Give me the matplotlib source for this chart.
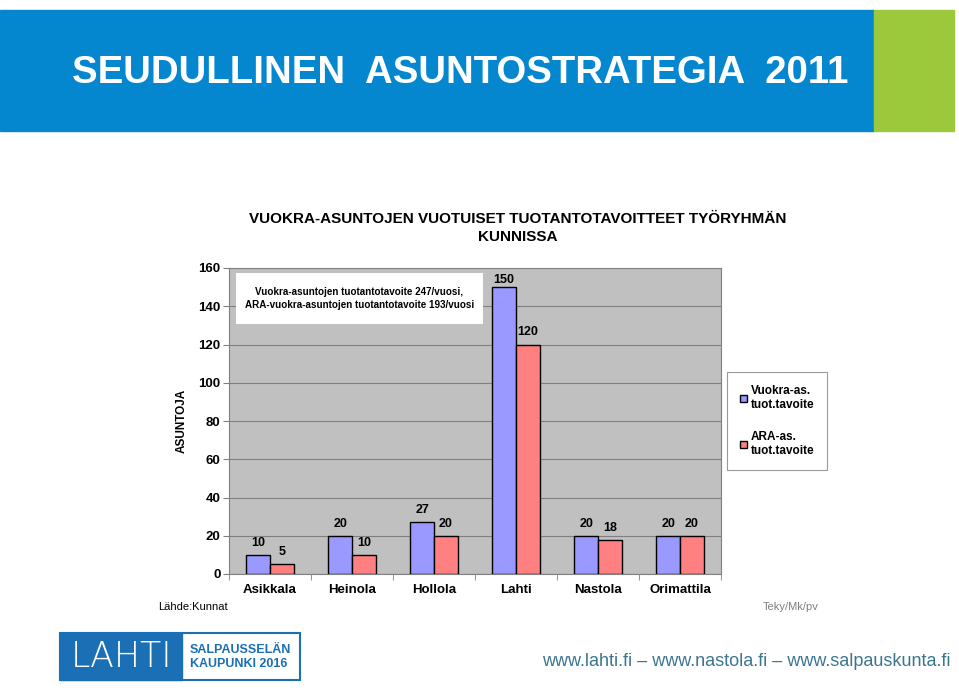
import numpy as np
import matplotlib.pyplot as plt
from matplotlib.patches import Rectangle

# =============================================================================
# data
# =============================================================================
kunnat = ['Asikkala', 'Heinola', 'Hollola', 'Lahti', 'Nastola', 'Orimattila']
vuokra = [10, 20, 27, 150, 20, 20]
ara = [5, 10, 20, 120, 18, 20]
series_names = ['Vuokra-as.\ntuot.tavoite', 'ARA-as.\ntuot.tavoite']
y_ticks = [0, 20, 40, 60, 80, 100, 120, 140, 160]

W, H = 959, 691
plt.rcParams['font.family'] = ['Liberation Sans', 'DejaVu Sans']

fig = plt.figure(figsize=(W/100, H/100), dpi=100)

def px(x, y):
    # pixel (from top-left) -> figure fraction
    return x / W, 1 - y / H

# =============================================================================
# header
# =============================================================================
fig.patches.append(Rectangle(px(0, 131), 874/W, 121/H, transform=fig.transFigure,
                             color='#0587d0', zorder=0))
fig.patches.append(Rectangle(px(874, 131), 80/W, 121/H, transform=fig.transFigure,
                             color='#9cc93b', zorder=0))
fig.text(*px(72, 73), 'SEUDULLINEN  ASUNTOSTRATEGIA  2011', color='white',
         fontsize=27.6, fontweight='bold', ha='left', va='center')

# =============================================================================
# chart
# =============================================================================
ax = fig.add_axes([229/W, (H-574)/H, (721-229)/W, (574-268)/H])
ax.set_facecolor('#c0c0c0')
x = np.arange(len(kunnat))
w = 0.29
b1 = ax.bar(x - w/2, vuokra, w, color='#9999ff', edgecolor='black', linewidth=1,
            label=series_names[0], zorder=3)
b2 = ax.bar(x + w/2, ara, w, color='#ff8080', edgecolor='black', linewidth=1,
            label=series_names[1], zorder=3)
for bars, vals in ((b1, vuokra), (b2, ara)):
    for r, v in zip(bars, vals):
        ax.text(r.get_x() + r.get_width()/2, min(v + 6.3, 153.7), str(v),
                ha='center', va='center', fontsize=9, fontweight='bold')

ax.set_xlim(-0.5, len(kunnat) - 0.5)
ax.set_ylim(0, 160)
ax.set_yticks(y_ticks)
ax.set_yticklabels([str(t) for t in y_ticks], fontsize=9.5, fontweight='bold')
ax.yaxis.grid(True, color='#7f7f7f', linewidth=0.8, zorder=1)
ax.set_axisbelow(True)
ax.set_xticks(x)
ax.set_xticklabels(kunnat, fontsize=9.5, fontweight='bold')
ax.set_xticks(np.arange(-0.5, len(kunnat)), minor=True)
ax.tick_params(axis='x', which='major', length=0, pad=7)
ax.tick_params(axis='x', which='minor', length=4, color='#808080')
ax.tick_params(axis='y', length=4, color='#808080', pad=2)
for s in ax.spines.values():
    s.set_color('#808080')
ax.set_ylabel('ASUNTOJA', fontsize=8.5, fontweight='bold', labelpad=8)

# info box inside the plot area
ax.add_patch(Rectangle((0.0142, 0.817), 0.502, 0.167, transform=ax.transAxes,
                       facecolor='white', edgecolor='none', zorder=5))
ax.text(0.265, 0.9, 'Vuokra-asuntojen tuotantotavoite 247/vuosi,\n'
        'ARA-vuokra-asuntojen tuotantotavoite 193/vuosi',
        transform=ax.transAxes, ha='center', va='center', fontsize=7.1,
        fontweight='bold', linespacing=1.4, zorder=6)

fig.text(*px(518, 228), 'VUOKRA-ASUNTOJEN VUOTUISET TUOTANTOTAVOITTEET TYÖRYHMÄN\nKUNNISSA',
         ha='center', va='center', fontsize=11, fontweight='bold', linespacing=1.4)

leg = fig.legend(handles=[b1, b2], loc='center left', bbox_to_anchor=px(727, 421),
                 prop={'weight': 'bold', 'size': 8.5}, frameon=True,
                 fancybox=False, edgecolor='#808080', handlelength=0.6,
                 handleheight=0.6, handletextpad=0.3, labelspacing=1.7,
                 borderpad=1.1, borderaxespad=0)
leg.get_frame().set_linewidth(0.8)

fig.text(*px(158, 607), 'Lähde:Kunnat', fontsize=8, ha='left', va='center')
fig.text(*px(763, 607), 'Teky/Mk/pv', fontsize=8, ha='left', va='center', color='#7f7f7f')

# =============================================================================
# footer
# =============================================================================
fig.patches.append(Rectangle(px(60, 680), 240/W, 47/H, transform=fig.transFigure,
                             facecolor='white', edgecolor='#1a6fb5', linewidth=1.5))
fig.patches.append(Rectangle(px(60, 680), 122/W, 47/H, transform=fig.transFigure,
                             color='#1a6fb5'))
fig.text(*px(121, 657), 'LAHTI', color='white', fontsize=25, fontweight='light',
         ha='center', va='center', family='DejaVu Sans')
fig.text(*px(190, 657), 'SALPAUSSELÄN\nKAUPUNKI 2016', color='#1a6fb5', fontsize=9,
         fontweight='bold', ha='left', va='center', linespacing=1.25)
fig.text(*px(951, 662), 'www.lahti.fi – www.nastola.fi – www.salpauskunta.fi',
         color='#3b7591', fontsize=13, ha='right', va='center')

fig.savefig('out.png', dpi=100)
